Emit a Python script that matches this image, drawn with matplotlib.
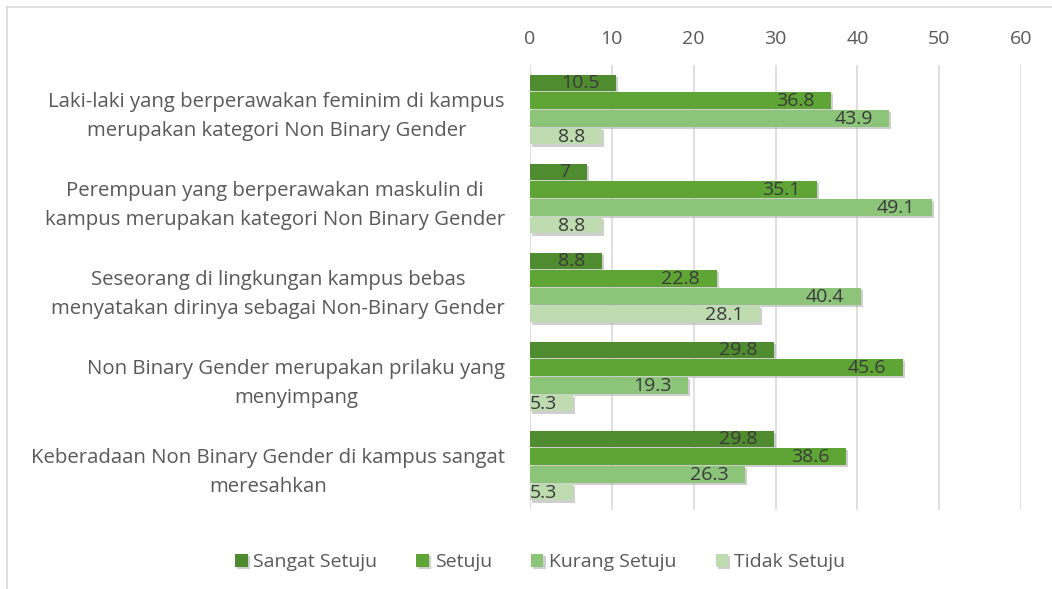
import numpy as np
import matplotlib.pyplot as plt
import matplotlib.patheffects as pe
from matplotlib.lines import Line2D

plt.rcParams['font.family'] = ['Open Sans', 'DejaVu Sans']

categories = [
    "Laki-laki yang berperawakan feminim di kampus\nmerupakan kategori Non Binary Gender",
    "Perempuan yang berperawakan maskulin di\nkampus merupakan kategori Non Binary Gender",
    "Seseorang di lingkungan kampus bebas\nmenyatakan dirinya sebagai Non-Binary Gender",
    "Non Binary Gender merupakan prilaku yang\nmenyimpang",
    "Keberadaan Non Binary Gender di kampus sangat\nmeresahkan",
]
series_names = ["Sangat Setuju", "Setuju", "Kurang Setuju", "Tidak Setuju"]
sangat_setuju = [10.5, 7, 8.8, 29.8, 29.8]
setuju = [36.8, 35.1, 22.8, 45.6, 38.6]
kurang_setuju = [43.9, 49.1, 40.4, 19.3, 26.3]
tidak_setuju = [8.8, 8.8, 28.1, 5.3, 5.3]
values = [sangat_setuju, setuju, kurang_setuju, tidak_setuju]
colors = ['#4f8b2f', '#5ea535', '#8cc47a', '#bfdcb1']

fig = plt.figure(figsize=(10.52, 5.89), dpi=100)
ax = fig.add_axes([530 / 1052, 1 - 510 / 589, (1021 - 530) / 1052, (510 - 65) / 589])

y = np.arange(len(categories))
h = 0.185
shadow = [pe.SimplePatchShadow(offset=(1.5, -1.5), shadow_rgbFace='#b0b0b0', alpha=0.6), pe.Normal()]
for i, (name, vals, c) in enumerate(zip(series_names, values, colors)):
    pos = y + (i - 1.5) * (h + 0.015)
    bars = ax.barh(pos, vals, height=h, color=c, label=name, zorder=3)
    for b in bars:
        b.set_path_effects(shadow)
    for p, v in zip(pos, vals):
        ax.annotate(f"{v:g}", xy=(v, p), xytext=(-12, -0.5), textcoords='offset points',
                    ha='right', va='center', fontsize=14, color='#3a3a3a', zorder=4)

ax.set_xlim(0, 60)
ax.set_ylim(len(categories) - 0.5, -0.5)
ax.set_xticks(range(0, 61, 10))
ax.xaxis.tick_top()
ax.tick_params(axis='x', length=0, labelsize=14, labelcolor='#595959', pad=12)
ax.set_yticks(y)
ax.set_yticklabels(categories, multialignment='center', fontsize=14.7, color='#595959',
                   linespacing=1.63)
ax.tick_params(axis='y', length=0, pad=18)
ax.grid(axis='x', color='#d9d9d9', linewidth=1.2, zorder=0)
for s in ax.spines.values():
    s.set_visible(False)

ax.legend(loc='center', bbox_to_anchor=(540 / 1052, 1 - 562 / 589), bbox_transform=fig.transFigure,
          ncol=4, frameon=False, fontsize=14, labelcolor='#595959', handlelength=0.65,
          handleheight=0.65, handletextpad=0.3, columnspacing=2.0)

fig.add_artist(Line2D([7 / 1052, 7 / 1052], [0, 1 - 7 / 589], color='#d9d9d9', lw=1.2))
fig.add_artist(Line2D([7 / 1052, 1], [1 - 7 / 589, 1 - 7 / 589], color='#d9d9d9', lw=1.2))

fig.savefig('out.png', dpi=100)
